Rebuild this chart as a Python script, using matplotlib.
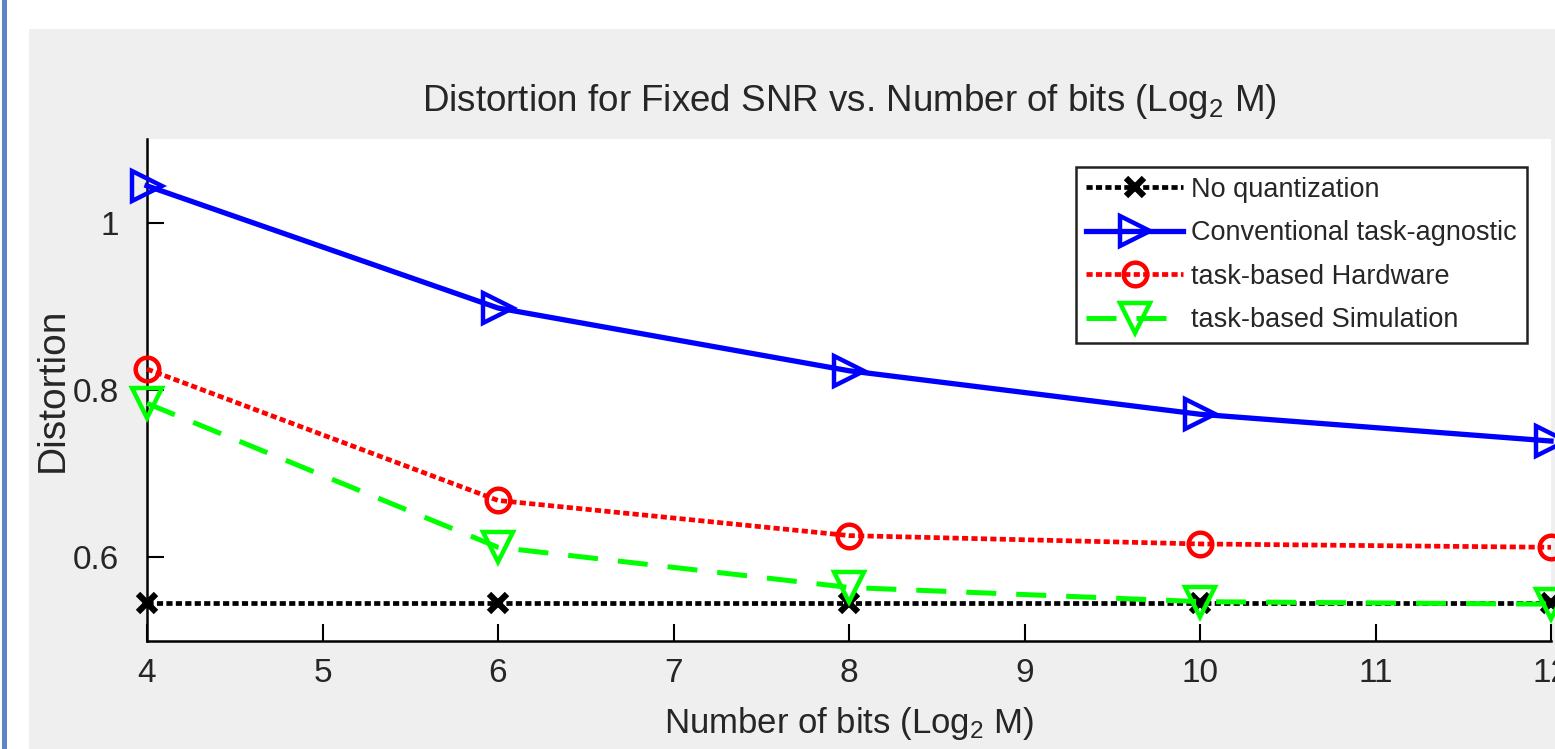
import numpy as np
import matplotlib.pyplot as plt
from matplotlib.patches import Rectangle

# --- data ---
bits = [4, 6, 8, 10, 12]
no_quant = [0.546, 0.546, 0.546, 0.546, 0.546]
conventional = [1.044, 0.898, 0.823, 0.771, 0.739]
hardware = [0.825, 0.668, 0.626, 0.616, 0.612]
simulation = [0.784, 0.612, 0.564, 0.547, 0.544]

xticks = [4, 5, 6, 7, 8, 9, 10, 11, 12]
yticks = [0.6, 0.8, 1.0]
ytick_labels = ["0.6", "0.8", "1"]

plt.rcParams['font.family'] = ['Liberation Sans Narrow', 'Liberation Sans', 'DejaVu Sans']
plt.rcParams['mathtext.default'] = 'regular'
txt = "#262626"

fig = plt.figure(figsize=(15.55, 7.49), dpi=100)
fig.patch.set_facecolor("white")
# grey MATLAB figure panel and the blue page border of the screenshot
fig.patches.append(Rectangle((29 / 1555, 0), 1, (749 - 29) / 749, transform=fig.transFigure,
                             facecolor="#efefef", edgecolor="none", zorder=-2))
fig.patches.append(Rectangle((2 / 1555, 0), 5 / 1555, 1, transform=fig.transFigure,
                             facecolor="#5b86c6", edgecolor="none", zorder=-1))

ax = fig.add_axes([147 / 1555, 108 / 749, 1404 / 1555, 502 / 749])
ax.set_facecolor("white")

ax.plot(bits, no_quant, color="black", linestyle=(0, (1.3, 0.7)), linewidth=3.4,
        marker="x", markersize=13, markeredgewidth=4.5, clip_on=False, zorder=3,
        label="No quantization")
ax.plot(bits, conventional, color="#0000ff", linestyle="-", linewidth=3.8,
        marker=">", markersize=22, markerfacecolor="none", markeredgewidth=3.2,
        clip_on=False, zorder=4, label="Conventional task-agnostic")
ax.plot(bits, hardware, color="#ff0000", linestyle=(0, (1.3, 0.7)), linewidth=3.4,
        marker="o", markersize=17, markerfacecolor="none", markeredgewidth=3.2,
        clip_on=False, zorder=4, label="task-based Hardware")
ax.plot(bits, simulation, color="#00ff00", linestyle=(0, (6, 4)), linewidth=3.6,
        marker="v", markersize=22, markerfacecolor="none", markeredgewidth=3.2,
        clip_on=False, zorder=4, label="task-based Simulation")

ax.set_xlim(4, 12)
ax.set_ylim(0.5, 1.1)
ax.set_xticks(xticks)
ax.set_yticks(yticks)
ax.set_yticklabels(ytick_labels)
ax.tick_params(direction="in", length=12, width=1.5, labelsize=24, colors="black",
               labelcolor=txt)
ax.tick_params(axis="y", pad=20)
ax.tick_params(axis="x", pad=12)
for s in ["top", "right"]:
    ax.spines[s].set_visible(False)
for s in ["left", "bottom"]:
    ax.spines[s].set_linewidth(1.8)

ax.set_title("Distortion for Fixed SNR vs. Number of bits (Log$_2$ M)",
             fontsize=26.5, color=txt, pad=20)
ax.set_xlabel("Number of bits (Log$_2$ M)", fontsize=25, color=txt, labelpad=12)
ax.set_ylabel("Distortion", fontsize=28, color=txt)
ax.yaxis.set_label_coords(-0.0545, 0.5)

leg = ax.legend(loc="upper right", bbox_to_anchor=(0.9826, 0.944), fontsize=19.5,
                frameon=True, fancybox=False, framealpha=1, edgecolor="#222222",
                handlelength=3.6, handletextpad=0.3, borderpad=0.35, labelspacing=0.65,
                borderaxespad=0, markerscale=1.0)
leg.get_frame().set_linewidth(1.8)
for t in leg.get_texts():
    t.set_color(txt)

plt.savefig("out.png", dpi=100)
